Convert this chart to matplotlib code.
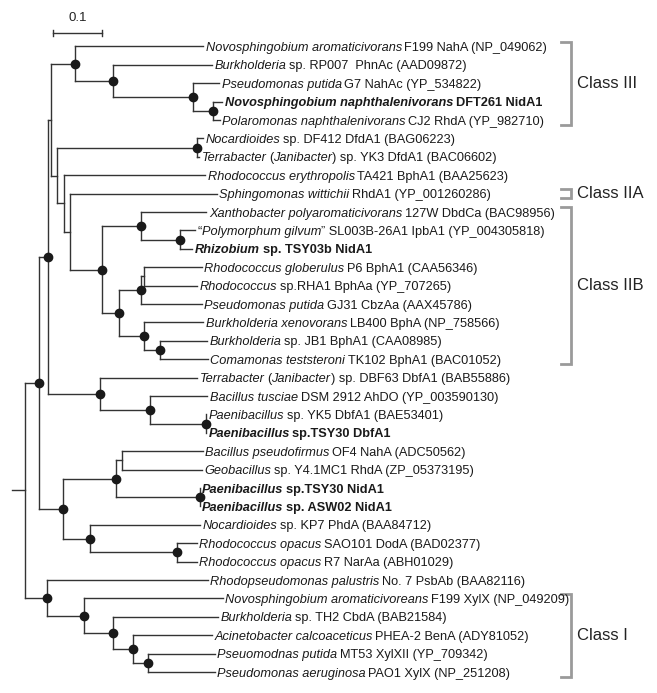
import matplotlib.pyplot as plt
from matplotlib.font_manager import FontProperties

plt.rcParams['font.family'] = ['Liberation Sans', 'DejaVu Sans']

# internal nodes of the tree (parent listed before child), branch lengths in substitutions/site
node_names = ["root", "n0", "n1", "nI", "n2", "nL", "n3", "nT", "nA", "n4",
              "nB", "nC", "nD", "nN", "n5", "n6", "n7", "n8", "n9", "n10",
              "n11", "n12", "n13", "n14", "nT2", "nT3", "nL1", "nL2", "nL3",
              "nL4", "nL5", "nI2", "nI3", "nI4", "nI5"]
node_parents = [None, "root", "n0", "n0", "n1", "n1", "n2", "n2", "n3", "n3",
                "nA", "nB", "nC", "n4", "n4", "n5", "n6", "n7", "n7", "n8",
                "n9", "n9", "n11", "n12", "nT", "nT2", "nL", "nL", "nL1",
                "nL1", "nL2", "nI", "nI2", "nI3", "nI4"]
node_lengths = [0.0, 0.027, 0.029, 0.045, 0.019, 0.049, 0.006, 0.107, 0.049, 0.012,
                0.078, 0.165, 0.041, 0.289, 0.014, 0.012, 0.066, 0.082, 0.035, 0.080,
                0.045, 0.052, 0.008, 0.033, 0.103, 0.115, 0.109, 0.056, 0.012,
                0.173, 0.179, 0.076, 0.060, 0.041, 0.031]
no_dot = ["root", "n0", "n3", "n4", "n5", "n6", "n13", "nL3"]

# leaves top to bottom, *...* marks italic text
leaf_labels = [
    "*Novosphingobium aromaticivorans* F199 NahA (NP_049062)",
    "*Burkholderia* sp. RP007  PhnAc (AAD09872)",
    "*Pseudomonas putida* G7 NahAc (YP_534822)",
    "*Novosphingobium naphthalenivorans* DFT261 NidA1",
    "*Polaromonas naphthalenivorans* CJ2 RhdA (YP_982710)",
    "*Nocardioides* sp. DF412 DfdA1 (BAG06223)",
    "*Terrabacter* (*Janibacter*) sp. YK3 DfdA1 (BAC06602)",
    "*Rhodococcus erythropolis* TA421 BphA1 (BAA25623)",
    "*Sphingomonas wittichii* RhdA1 (YP_001260286)",
    "*Xanthobacter polyaromaticivorans* 127W DbdCa (BAC98956)",
    "\u201c*Polymorphum gilvum*\u201d SL003B-26A1 IpbA1 (YP_004305818)",
    "*Rhizobium* sp. TSY03b NidA1",
    "*Rhodococcus globerulus* P6 BphA1 (CAA56346)",
    "*Rhodococcus* sp.RHA1 BphAa (YP_707265)",
    "*Pseudomonas putida* GJ31 CbzAa (AAX45786)",
    "*Burkholderia xenovorans* LB400 BphA (NP_758566)",
    "*Burkholderia* sp. JB1 BphA1 (CAA08985)",
    "*Comamonas teststeroni* TK102 BphA1 (BAC01052)",
    "*Terrabacter* (*Janibacter*) sp. DBF63 DbfA1 (BAB55886)",
    "*Bacillus tusciae* DSM 2912 AhDO (YP_003590130)",
    "*Paenibacillus* sp. YK5 DbfA1 (BAE53401)",
    "*Paenibacillus* sp.TSY30 DbfA1",
    "*Bacillus pseudofirmus* OF4 NahA (ADC50562)",
    "*Geobacillus* sp. Y4.1MC1 RhdA (ZP_05373195)",
    "*Paenibacillus* sp.TSY30 NidA1",
    "*Paenibacillus* sp. ASW02 NidA1",
    "*Nocardioides* sp. KP7 PhdA (BAA84712)",
    "*Rhodococcus opacus* SAO101 DodA (BAD02377)",
    "*Rhodococcus opacus* R7 NarAa (ABH01029)",
    "*Rhodopseudomonas palustris* No. 7 PsbAb (BAA82116)",
    "*Novosphingobium aromaticivoreans* F199 XylX (NP_049209)",
    "*Burkholderia* sp. TH2 CbdA (BAB21584)",
    "*Acinetobacter calcoaceticus* PHEA-2 BenA (ADY81052)",
    "*Pseuomodnas putida* MT53 XylXII (YP_709342)",
    "*Pseudomonas aeruginosa* PAO1 XylX (NP_251208)",
]
leaf_parents = ["nA", "nB", "nC", "nD", "nD", "nN", "nN", "n5", "n6", "n8",
                "n10", "n10", "n13", "n13", "n11", "n12", "n14", "n14", "nT", "nT2",
                "nT3", "nT3", "nL3", "nL3", "nL4", "nL4", "nL2", "nL5", "nL5", "nI",
                "nI2", "nI3", "nI4", "nI5", "nI5"]
leaf_lengths = [0.264, 0.204, 0.054, 0.019, 0.014, 0.012, 0.004, 0.291, 0.303, 0.134,
                0.031, 0.025, 0.118, 0.109, 0.126, 0.122, 0.097, 0.099, 0.200, 0.118,
                0.0, 0.0, 0.167, 0.165, 0.0, 0.0, 0.227, 0.041, 0.041, 0.332,
                0.287, 0.216, 0.163, 0.138, 0.138]
bold_leaves = [3, 11, 21, 24, 25]

class_names = ["Class III", "Class IIA", "Class IIB", "Class I"]
class_first = [0, 8, 9, 30]
class_last = [4, 8, 17, 34]

scale_length = 0.1

# ---- layout ----
depth = {}
parent = {}
children = {}
for name, p, bl in zip(node_names, node_parents, node_lengths):
    parent[name] = p
    depth[name] = 0.0 if p is None else depth[p] + bl
    children[name] = []
    if p is not None:
        children[p].append(name)

ypos = {}
leaf_ids = []
for i, (p, bl) in enumerate(zip(leaf_parents, leaf_lengths)):
    lid = "leaf%d" % i
    leaf_ids.append(lid)
    parent[lid] = p
    depth[lid] = depth[p] + bl
    children[p].append(lid)
    ypos[lid] = i


def get_y(n):
    if n in ypos:
        return ypos[n]
    ys = [get_y(c) for c in children[n]]
    ypos[n] = (min(ys) + max(ys)) / 2.0
    return ypos[n]


get_y("root")

fig = plt.figure(figsize=(6.57, 6.93), dpi=100)
ax = fig.add_axes([0, 0, 1, 1])
ax.set_xlim(-12 / 485.0, 645 / 485.0)
ax.set_ylim(35.136, -2.527)
ax.axis('off')

line_color = '#333333'
lw = 1.0

for n in list(node_names) + leaf_ids:
    p = parent[n]
    if p is not None:
        ax.plot([depth[p], depth[n]], [ypos[n], ypos[n]], color=line_color,
                lw=lw, solid_capstyle='projecting')
for n in node_names:
    ys = [ypos[c] for c in children[n]]
    if len(ys) > 1:
        ax.plot([depth[n], depth[n]], [min(ys), max(ys)], color=line_color,
                lw=lw, solid_capstyle='projecting')

dot_x = [depth[n] for n in node_names if n not in no_dot]
dot_y = [ypos[n] for n in node_names if n not in no_dot]
ax.plot(dot_x, dot_y, 'o', ms=6, color='#1a1a1a', zorder=3)

# ---- leaf labels ----
renderer = fig.canvas.get_renderer()


def text_width(s, prop):
    if not s:
        return 0.0
    w0, _, _ = renderer.get_text_width_height_descent('||', prop, ismath=False)
    w1, _, _ = renderer.get_text_width_height_descent('|' + s + '|', prop, ismath=False)
    return (w1 - w0) * 72.0 / fig.dpi


label_size = 9.2
for i, lab in enumerate(leaf_labels):
    lid = leaf_ids[i]
    x, y = depth[lid], ypos[lid]
    offset = 1.8
    weight = 'bold' if i in bold_leaves else 'normal'
    for k, piece in enumerate(lab.split('*')):
        if not piece:
            continue
        style = 'italic' if k % 2 else 'normal'
        prop = FontProperties(family=['Liberation Sans', 'DejaVu Sans'],
                              size=label_size, style=style, weight=weight)
        core = piece.strip(' ')
        lead = piece[:len(piece) - len(piece.lstrip(' '))]
        trail = piece[len(piece.rstrip(' ')):]
        offset += 0.75 * text_width(lead, prop)
        ax.annotate(core, (x, y), xytext=(offset, -3.3), textcoords='offset points',
                    ha='left', va='baseline', fontproperties=prop, color='#1a1a1a')
        offset += text_width(core, prop) + 0.75 * text_width(trail, prop)

# ---- class brackets ----
bx = (571 - 12) / 485.0
tick = 10 / 485.0
for name, a, b in zip(class_names, class_first, class_last):
    y0, y1 = a - 0.25, b + 0.25
    ax.plot([bx - tick, bx, bx, bx - tick], [y0, y0, y1, y1], color='#9a9a9a',
            lw=2.0, solid_joinstyle='miter')
    ax.text(bx + 6 / 485.0, (y0 + y1) / 2.0, name, fontsize=12, ha='left',
            va='center', color='#222222')

# ---- scale bar ----
sx = (53 - 12) / 485.0
sy = -0.73
ax.plot([sx, sx + scale_length], [sy, sy], color=line_color, lw=1.0)
ax.plot([sx, sx], [sy - 0.17, sy + 0.17], color=line_color, lw=1.0)
ax.plot([sx + scale_length, sx + scale_length], [sy - 0.17, sy + 0.17], color=line_color, lw=1.0)
ax.text(sx + scale_length / 2, sy - 0.5, "%g" % scale_length, fontsize=9.5,
        ha='center', va='bottom', color='#222222')

fig.savefig("out.png", dpi=100)
